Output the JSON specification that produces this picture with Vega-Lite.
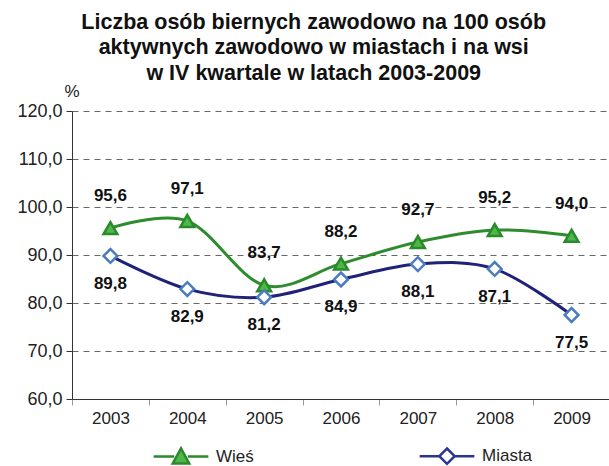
{
  "$schema": "https://vega.github.io/schema/vega-lite/v6.json",
  "width": 538,
  "height": 288,
  "autosize": {"type": "none"},
  "padding": {"left": 72, "top": 111, "right": 0, "bottom": 67},
  "config": {
    "locale": {"number": {"decimal": ",", "thousands": " ", "grouping": [3], "currency": ["", " zł"]}},
    "font": "Liberation Sans",
    "view": {"stroke": null}
  },
  "title": {
    "text": ["Liczba osób biernych zawodowo na 100 osób", "aktywnych zawodowo w miastach i na wsi", "w IV kwartale w  latach 2003-2009"],
    "fontSize": 21.5,
    "fontWeight": "bold",
    "color": "#111",
    "anchor": "middle",
    "frame": "bounds",
    "lineHeight": 25.5,
    "offset": -2
  },
  "data": {
    "values": [
      {"rok": "2003", "seria": "Wieś", "wartosc": 95.6},
      {"rok": "2004", "seria": "Wieś", "wartosc": 97.1},
      {"rok": "2005", "seria": "Wieś", "wartosc": 83.7},
      {"rok": "2006", "seria": "Wieś", "wartosc": 88.2},
      {"rok": "2007", "seria": "Wieś", "wartosc": 92.7},
      {"rok": "2008", "seria": "Wieś", "wartosc": 95.2},
      {"rok": "2009", "seria": "Wieś", "wartosc": 94.0},
      {"rok": "2003", "seria": "Miasta", "wartosc": 89.8},
      {"rok": "2004", "seria": "Miasta", "wartosc": 82.9},
      {"rok": "2005", "seria": "Miasta", "wartosc": 81.2},
      {"rok": "2006", "seria": "Miasta", "wartosc": 84.9},
      {"rok": "2007", "seria": "Miasta", "wartosc": 88.1},
      {"rok": "2008", "seria": "Miasta", "wartosc": 87.1},
      {"rok": "2009", "seria": "Miasta", "wartosc": 77.5}
    ]
  },
  "encoding": {
    "x": {
      "field": "rok", "type": "ordinal",
      "scale": {"type": "band", "paddingInner": 0, "paddingOuter": 0},
      "axis": {"title": null, "labelAngle": 0, "tickBand": "extent", "domainColor": "#333", "tickColor": "#999", "tickSize": 6, "labelFontSize": 17, "labelColor": "#222", "labelPadding": 5, "grid": false}
    },
    "y": {
      "field": "wartosc", "type": "quantitative",
      "scale": {"domain": [60, 120], "nice": false, "zero": false},
      "axis": {
        "values": [60, 70, 80, 90, 100, 110, 120],
        "format": ".1f",
        "title": "%", "titleAngle": 0, "titleX": -8, "titleY": -20, "titleAlign": "left", "titleBaseline": "middle",
        "titleFontWeight": "normal", "titleFontSize": 17, "titleColor": "#222",
        "gridDash": [6, 5], "gridColor": "#666",
        "domainColor": "#333", "tickColor": "#333", "tickSize": 6,
        "labelFontSize": 18, "labelColor": "#222", "labelPadding": 4
      }
    }
  },
  "layer": [
    {
      "mark": {"type": "line", "interpolate": "cardinal", "strokeWidth": 3},
      "encoding": {
        "color": {"field": "seria", "type": "nominal", "scale": {"domain": ["Wieś", "Miasta"], "range": ["#2e8b2e", "#1f2278"]}, "legend": null}
      }
    },
    {
      "mark": {"type": "point", "filled": true, "size": 190, "strokeWidth": 2.5, "opacity": 1},
      "encoding": {
        "shape": {"field": "seria", "type": "nominal", "scale": {"domain": ["Wieś", "Miasta"], "range": ["triangle-up", "diamond"]}, "legend": null},
        "fill": {"field": "seria", "type": "nominal", "scale": {"domain": ["Wieś", "Miasta"], "range": ["#4cb848", "#ffffff"]}, "legend": null},
        "stroke": {"field": "seria", "type": "nominal", "scale": {"domain": ["Wieś", "Miasta"], "range": ["#2b8a2b", "#4a7cc0"]}, "legend": null}
      }
    },
    {
      "transform": [{"filter": "datum.seria === 'Wieś'"}],
      "mark": {"type": "text", "dy": -32, "fontSize": 17, "fontWeight": "bold", "color": "#111"},
      "encoding": {"text": {"field": "wartosc", "type": "quantitative", "format": ".1f"}}
    },
    {
      "transform": [{"filter": "datum.seria === 'Miasta'"}],
      "mark": {"type": "text", "dy": 28, "fontSize": 17, "fontWeight": "bold", "color": "#111"},
      "encoding": {"text": {"field": "wartosc", "type": "quantitative", "format": ".1f"}}
    },
    {
      "mark": {"type": "point", "opacity": 0, "filled": true, "strokeWidth": 2.5},
      "encoding": {
        "shape": {
          "field": "seria", "type": "nominal",
          "scale": {"domain": ["Wieś", "Miasta"], "range": ["M-1,0H-0.25M0.25,0H1M-0.3,0.25L0,-0.3L0.3,0.25Z", "M-1,0H-0.28M0.28,0H1M0,-0.28L0.28,0L0,0.28L-0.28,0Z"]},
          "legend": {
            "title": null, "orient": "none", "legendX": 80, "legendY": 316, "direction": "horizontal",
            "symbolSize": 3000, "symbolStrokeWidth": 2.5, "symbolOpacity": 1,
            "labelFontSize": 17, "labelColor": "#222", "columnPadding": 160, "labelOffset": 6
          }
        },
        "fill": {"field": "seria", "type": "nominal", "scale": {"domain": ["Wieś", "Miasta"], "range": ["#4cb848", "#ffffff"]}},
        "stroke": {"field": "seria", "type": "nominal", "scale": {"domain": ["Wieś", "Miasta"], "range": ["#2b8a2b", "#2a3590"]}}
      }
    }
  ],
  "resolve": {"scale": {"shape": "independent", "fill": "independent", "stroke": "independent"}}
}
